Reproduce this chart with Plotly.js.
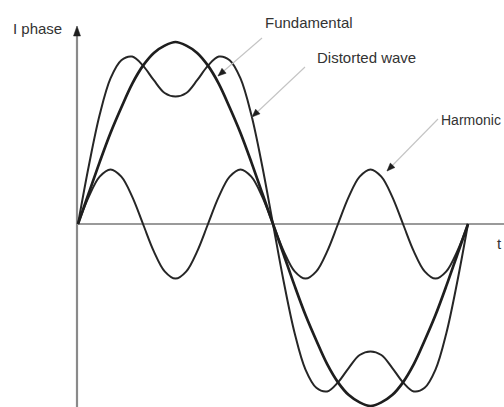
<!DOCTYPE html>
<html>
<head>
<meta charset="utf-8">
<script src="https://cdn.plot.ly/plotly-3.0.1.min.js"></script>
<style>html,body{margin:0;padding:0;background:#fff;}#chart{width:504px;height:407px;}</style>
</head>
<body>
<div id="chart"></div>
<script>
// Phase angle in degrees (x) and currents in units of the fundamental peak
const angle = [0,10,20,30,40,50,60,70,80,90,100,110,120,130,140,150,160,170,180,190,200,210,220,230,240,250,260,270,280,290,300,310,320,330,340,350,360];
const fundamental = [0,0.17,0.34,0.50,0.64,0.77,0.87,0.94,0.98,1.00,0.98,0.94,0.87,0.77,0.64,0.50,0.34,0.17,0,-0.17,-0.34,-0.50,-0.64,-0.77,-0.87,-0.94,-0.98,-1.00,-0.98,-0.94,-0.87,-0.77,-0.64,-0.50,-0.34,-0.17,0];
const harmonic = [0,0.15,0.26,0.30,0.26,0.15,0,-0.15,-0.26,-0.30,-0.26,-0.15,0,0.15,0.26,0.30,0.26,0.15,0,-0.15,-0.26,-0.30,-0.26,-0.15,0,0.15,0.26,0.30,0.26,0.15,0,-0.15,-0.26,-0.30,-0.26,-0.15,0];
const distorted = [0,0.32,0.60,0.80,0.90,0.92,0.87,0.79,0.72,0.70,0.72,0.79,0.87,0.92,0.90,0.80,0.60,0.32,0,-0.32,-0.60,-0.80,-0.90,-0.92,-0.87,-0.79,-0.72,-0.70,-0.72,-0.79,-0.87,-0.92,-0.90,-0.80,-0.60,-0.32,0];
const labels = ["I phase","Fundamental","Distorted wave","Harmonic","t"];

// layout geometry (pixel -> data helpers, used only for decorations)
const W = 504, H = 407;
const X0PX = 78, XSCALE = 390/360;   // px per degree
const Y0PX = 224, YSCALE = 182;      // px per unit
const X = px => (px - X0PX) / XSCALE;
const Y = py => (Y0PX - py) / YSCALE;

const ink = '#1e1e1e';
const traces = [
  {x: angle, y: harmonic, mode: 'lines', line: {shape: 'spline', color: '#262626', width: 2}, hoverinfo: 'skip'},
  {x: angle, y: distorted, mode: 'lines', line: {shape: 'spline', color: '#262626', width: 2}, hoverinfo: 'skip'},
  {x: angle, y: fundamental, mode: 'lines', line: {shape: 'spline', color: ink, width: 2.7}, hoverinfo: 'skip'}
];

const shapes = [];
// axes
shapes.push({type: 'line', xref: 'x', yref: 'y', x0: X(77), x1: X(77), y0: Y(H + 2), y1: Y(34), line: {color: '#8a8a8a', width: 2.2}, layer: 'below'});
shapes.push({type: 'line', xref: 'x', yref: 'y', x0: X(77), x1: X(W + 2), y0: 0, y1: 0, line: {color: '#9a9a9a', width: 2.2}, layer: 'below'});
// y-axis arrow head
shapes.push({type: 'path', xref: 'x', yref: 'y',
  path: `M ${X(77)} ${Y(26)} L ${X(73.5)} ${Y(36)} L ${X(80.5)} ${Y(36)} Z`,
  fillcolor: ink, line: {color: ink, width: 0.5}});

// callout arrows
function callout(tx, ty, hx, hy) {
  shapes.push({type: 'line', xref: 'x', yref: 'y', x0: X(tx), y0: Y(ty), x1: X(hx), y1: Y(hy), line: {color: '#c4c4c4', width: 1.1}});
  const dx = tx - hx, dy = ty - hy, L = Math.hypot(dx, dy);
  const ux = dx / L, uy = dy / L, len = 8, half = 3.2;
  const bx = hx + ux * len, by = hy + uy * len;
  const px = -uy, py = ux;
  shapes.push({type: 'path', xref: 'x', yref: 'y',
    path: `M ${X(hx)} ${Y(hy)} L ${X(bx + px * half)} ${Y(by + py * half)} L ${X(bx - px * half)} ${Y(by - py * half)} Z`,
    fillcolor: ink, line: {color: ink, width: 0.5}});
}
callout(262, 38, 218, 76);
callout(305, 67, 252, 117);
callout(438, 119, 387, 171);

const font = {family: 'Liberation Sans, Arial, sans-serif', size: 15, color: '#333'};
function label(text, lx, cy, size) {
  return {text: text, xref: 'x', yref: 'y', x: X(lx), y: Y(cy), xanchor: 'left', yanchor: 'middle', showarrow: false,
    font: Object.assign({}, font, size ? {size: size} : {}), borderpad: 0};
}
const annotations = [
  label(labels[0], 12, 28),
  label(labels[1], 264, 22),
  label(labels[2], 316, 57),
  label(labels[3], 440, 120, 14),
  label(labels[4], 496, 243)
];

const layout = {
  width: W, height: H,
  margin: {l: 0, r: 0, t: 0, b: 0, pad: 0},
  paper_bgcolor: '#fff', plot_bgcolor: '#fff',
  showlegend: false,
  xaxis: {range: [X(0), X(W)], visible: false, fixedrange: true},
  yaxis: {range: [Y(H), Y(0)], visible: false, fixedrange: true},
  shapes: shapes,
  annotations: annotations
};

Plotly.newPlot('chart', traces, layout, {staticPlot: true, displayModeBar: false});
</script>
</body>
</html>
